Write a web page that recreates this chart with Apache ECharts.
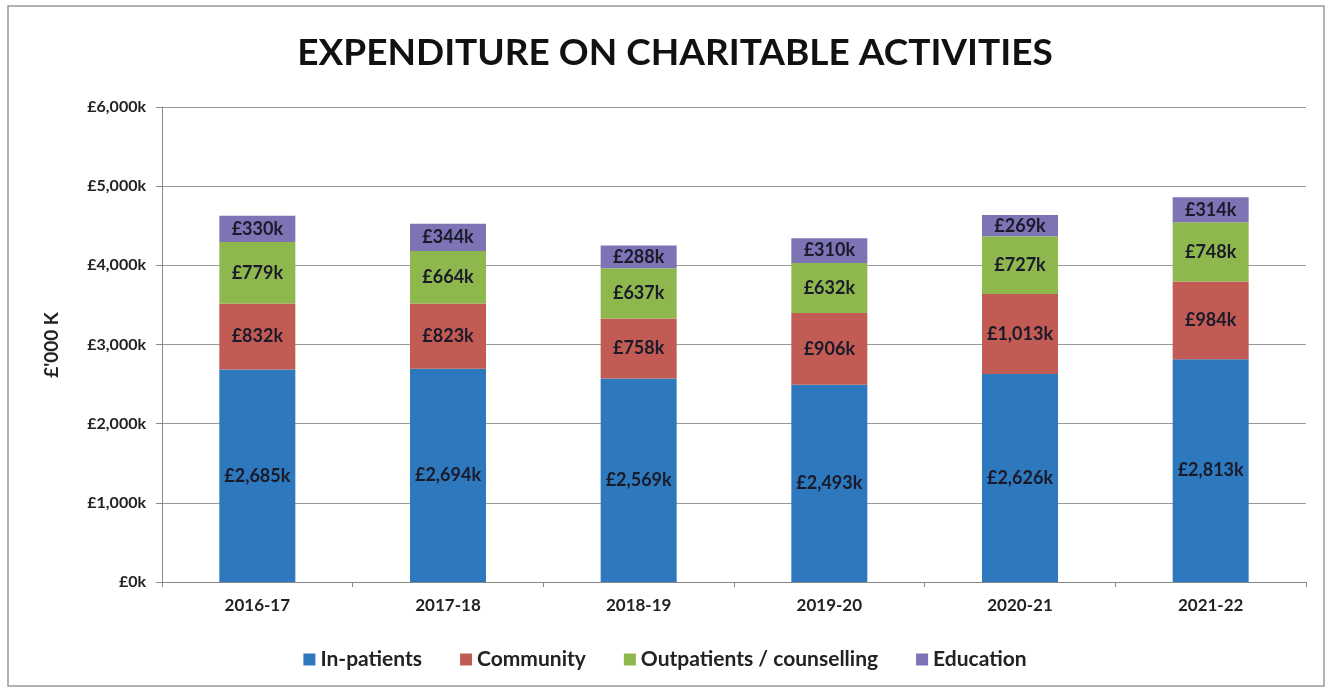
<!DOCTYPE html>
<html><head><meta charset="utf-8">
<script src="https://cdn.jsdelivr.net/npm/echarts@6/dist/echarts.min.js"></script>
<style>html,body{margin:0;padding:0;background:#fff}#c{width:1330px;height:689px}</style>
</head><body><div id="c"></div>
<script>
const categories = ['2016-17','2017-18','2018-19','2019-20','2020-21','2021-22'];
const inPatients = [2685, 2694, 2569, 2493, 2626, 2813];
const community = [832, 823, 758, 906, 1013, 984];
const outpatients = [779, 664, 637, 632, 727, 748];
const education = [330, 344, 288, 310, 269, 314];
const seriesNames = ['In-patients','Community','Outpatients / counselling','Education'];
const colors = ['#2E78BD','#C25B53','#8EB84E','#7C74B4'];

const font = 'Lato, "Open Sans", sans-serif';
function fmt(v){ return '£' + v.toLocaleString('en-GB') + 'k'; }
const chart = echarts.init(document.getElementById('c'));
const data = [inPatients, community, outpatients, education];
chart.setOption({
  animation: false,
  backgroundColor: '#fff',
  title: { text: 'EXPENDITURE ON CHARITABLE ACTIVITIES', left: 670, top: 30, textAlign: 'center',
    textStyle: { fontFamily: font, fontWeight: 'bold', fontSize: 37, color: '#111' } },
  graphic: [
    { type: 'rect', shape: { x: 8, y: 6, width: 1316, height: 680 }, style: { fill: 'none', stroke: '#999', lineWidth: 1.5 } },
    { type: 'text', x: 52, y: 345, rotation: Math.PI / 2,
      style: { text: "£'000 K", font: 'bold 19px ' + font, fill: '#222', align: 'center', verticalAlign: 'middle' } }
  ],
  legend: { bottom: 14, left: 'center', itemWidth: 12, itemHeight: 12, itemGap: 38, icon: 'rect',
    textStyle: { fontFamily: font, fontWeight: 'bold', fontSize: 21, color: '#222' } },
  grid: { left: 162, right: 24, top: 107, bottom: 107 },
  xAxis: { type: 'category', data: categories,
    axisLine: { lineStyle: { color: '#888' } }, axisTick: { show: true, length: 5, lineStyle: { color: '#888' } },
    axisLabel: { fontFamily: font, fontWeight: 'bold', fontSize: 17, color: '#222', margin: 15 } },
  yAxis: { type: 'value', min: 0, max: 6000, interval: 1000,
    axisLine: { show: true, lineStyle: { color: '#888' } }, axisTick: { show: true, length: 6, lineStyle: { color: '#888' } },
    splitLine: { lineStyle: { color: '#999' } },
    axisLabel: { fontFamily: font, fontWeight: 'bold', fontSize: 16, color: '#222', margin: 16,
      formatter: v => fmt(v) } },
  series: seriesNames.map((n, i) => ({
    name: n, type: 'bar', stack: 'total', data: data[i], barWidth: 76,
    itemStyle: { color: colors[i] },
    label: { show: true, position: 'inside', formatter: p => fmt(p.value),
      fontFamily: font, fontWeight: 'bold', fontSize: 18, color: '#1a1a2a' }
  })),
  color: colors
});
</script></body></html>
